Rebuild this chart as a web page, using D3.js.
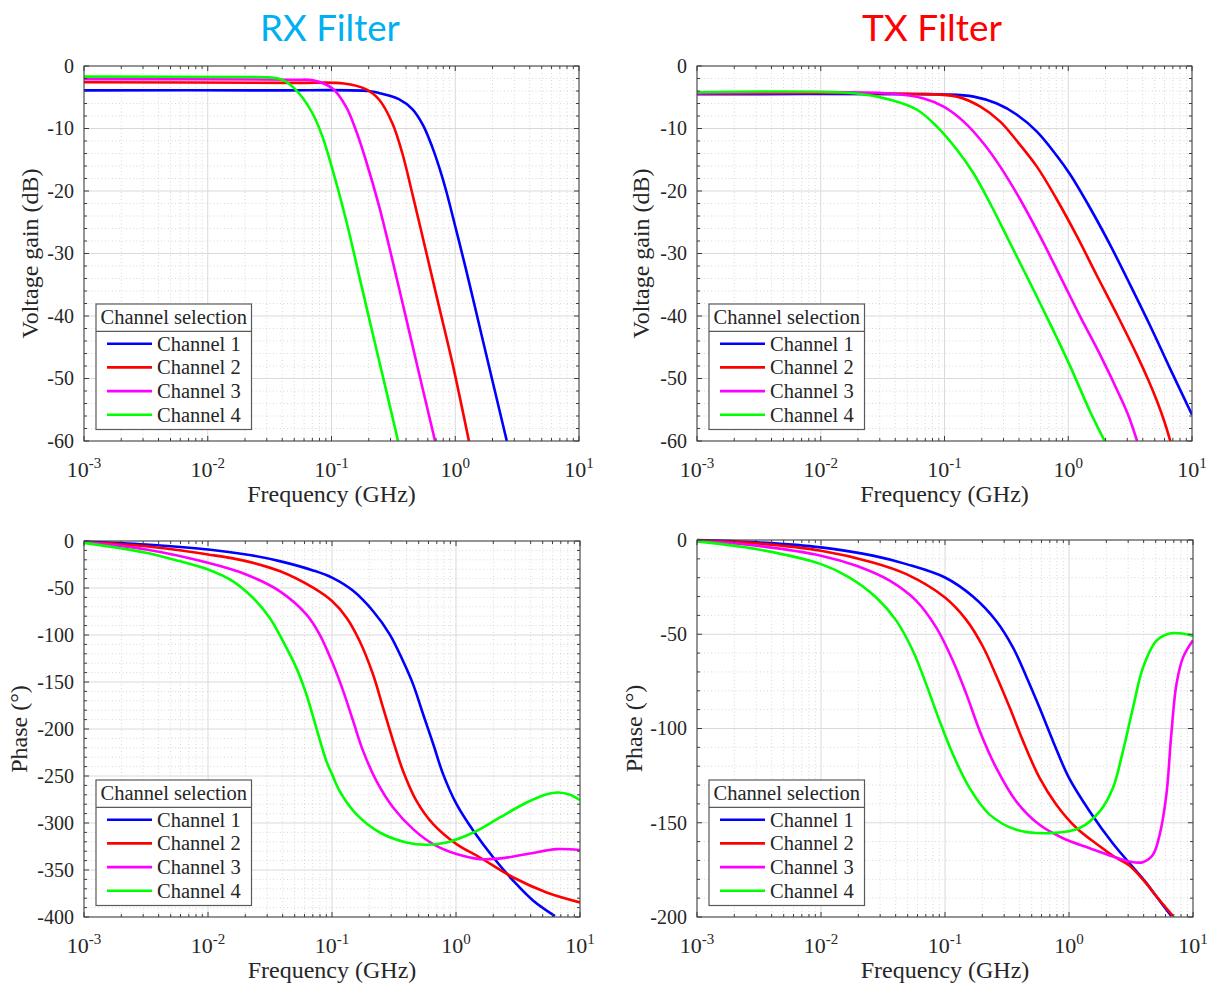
<!DOCTYPE html>
<html><head><meta charset="utf-8">
<script src="https://cdn.jsdelivr.net/npm/d3@7"></script>
<style>body{margin:0;background:#fff}</style>
</head><body><svg id="c" width="1215" height="985"></svg>
<script>
const channels = ["Channel 1", "Channel 2", "Channel 3", "Channel 4"];
const channelColors = ["#0000ff", "#ff0000", "#ff00ff", "#00ff00"];
const freqTicks = [0.001, 0.01, 0.1, 1, 10];
const freqTickExponents = ["-3", "-2", "-1", "0", "1"];
const gainTicks = [0, -10, -20, -30, -40, -50, -60];
const rxPhaseTicks = [0, -50, -100, -150, -200, -250, -300, -350, -400];
const txPhaseTicks = [0, -50, -100, -150, -200];
const titles = ["RX Filter", "TX Filter"];
const legendTitle = "Channel selection";
const xLabel = "Frequency (GHz)";
const gainLabel = "Voltage gain (dB)";
const phaseLabel = "Phase (°)";

// [frequency GHz, value]
const rxGainCh1 = [[0.001,-3.9],[0.0316,-3.9],[0.2,-4.0],[0.25,-4.4],[0.35,-5.3],[0.45,-6.9],[0.55,-9.5],[0.65,-12.9],[0.75,-16.5],[0.84,-19.8],[1.01,-26.0],[1.22,-32.5],[1.56,-41.4],[2.0,-50.4],[2.61,-60]];
const rxGainCh2 = [[0.001,-2.6],[0.05,-2.7],[0.126,-2.8],[0.189,-3.7],[0.243,-5.4],[0.311,-9.2],[0.374,-14.0],[0.451,-20.5],[0.578,-29.5],[0.74,-38.5],[0.948,-47.5],[1.29,-60]];
const rxGainCh3 = [[0.001,-2.1],[0.05,-2.2],[0.0708,-2.3],[0.102,-3.6],[0.131,-6.5],[0.157,-10.2],[0.189,-15.0],[0.243,-22.5],[0.311,-31.1],[0.398,-40.1],[0.51,-49.2],[0.687,-60]];
const rxGainCh4 = [[0.001,-1.7],[0.02,-1.75],[0.03,-1.8],[0.037,-2.0],[0.0428,-2.5],[0.0548,-4.4],[0.0703,-7.6],[0.0845,-11.3],[0.102,-16.6],[0.131,-24.6],[0.167,-33.5],[0.214,-42.6],[0.275,-51.7],[0.345,-60]];

const txGainCh1 = [[0.001,-4.5],[0.05,-4.5],[0.0984,-4.55],[0.172,-4.9],[0.265,-6.0],[0.385,-7.8],[0.558,-10.5],[0.811,-14.4],[1.04,-17.4],[1.51,-22.8],[2.19,-28.7],[3.18,-35.1],[4.6,-41.6],[6.68,-48.5],[10,-55.8]];
const txGainCh2 = [[0.001,-4.4],[0.05,-4.45],[0.126,-4.9],[0.195,-6.5],[0.282,-8.9],[0.385,-12.0],[0.558,-16.1],[0.811,-21.4],[1.18,-27.3],[1.71,-33.6],[2.48,-39.8],[3.6,-46.3],[4.47,-50.4],[5.21,-53.6],[5.96,-56.8],[6.68,-60]];
const txGainCh3 = [[0.001,-4.35],[0.0365,-4.4],[0.0679,-5.2],[0.0984,-6.5],[0.143,-8.9],[0.207,-12.4],[0.282,-16.1],[0.41,-21.4],[0.594,-27.3],[0.863,-33.7],[1.25,-40.1],[1.82,-46.3],[2.64,-53.0],[3.1,-56.2],[3.6,-60]];
const txGainCh4 = [[0.001,-4.2],[0.0196,-4.4],[0.0365,-5.4],[0.06,-7.0],[0.0869,-9.7],[0.126,-13.4],[0.172,-17.2],[0.234,-22],[0.34,-28.4],[0.494,-34.8],[0.716,-41.3],[1.04,-48.1],[1.51,-55.4],[1.97,-60]];

const rxPhaseCh1 = [[0.001,-0.5],[0.00317,-3.7],[0.01,-9],[0.0203,-14.3],[0.0378,-21.4],[0.0703,-31.3],[0.1,-39],[0.148,-53],[0.214,-74.5],[0.292,-99.3],[0.374,-127.7],[0.451,-152.5],[0.543,-184.3],[0.655,-216],[0.787,-248],[1.01,-280],[1.38,-308.3],[2.0,-336.7],[2.9,-361.5],[4.2,-382.7],[6.28,-399]];
const rxPhaseCh2 = [[0.001,-1],[0.00317,-5.5],[0.01,-14.3],[0.0203,-21.4],[0.0378,-32],[0.0703,-49.7],[0.1,-63.9],[0.131,-81.6],[0.167,-106.4],[0.214,-141.8],[0.258,-177.3],[0.311,-212.6],[0.374,-244.6],[0.48,-276.4],[0.655,-301.2],[1.01,-322.5],[1.56,-336.7],[2.9,-358],[5.38,-373.9],[10,-384.5]];
const rxPhaseCh3 = [[0.001,-1.2],[0.00317,-9],[0.01,-23.2],[0.0203,-35.6],[0.0378,-53.3],[0.0621,-78.1],[0.0794,-99.3],[0.102,-131.2],[0.123,-159.5],[0.148,-191.4],[0.178,-223.3],[0.228,-255.2],[0.311,-283.5],[0.451,-306.5],[0.655,-322.5],[1.01,-333.1],[1.56,-338.4],[2.4,-337.4],[3.94,-332.4],[6.49,-327.8],[10,-328.8]];
const rxPhaseCh4 = [[0.001,-2],[0.00317,-12.5],[0.00589,-21.4],[0.01,-30.3],[0.0158,-42.6],[0.023,-60.4],[0.0314,-81.6],[0.0402,-106.4],[0.0515,-134.7],[0.0621,-163],[0.0746,-198.5],[0.0899,-233.9],[0.1,-248],[0.115,-265.8],[0.157,-290.6],[0.243,-310.1],[0.398,-320.7],[0.578,-323.2],[0.838,-320.7],[1.38,-310.1],[2.26,-294.1],[3.71,-278.2],[5.38,-269.3],[6.68,-267.6],[8.3,-270],[10,-275.8]];

const txPhaseCh1 = [[0.001,0],[0.003,-1.2],[0.01,-3.9],[0.0262,-8.3],[0.0488,-12.8],[0.1,-19.9],[0.168,-30],[0.259,-43],[0.353,-57],[0.453,-72.5],[0.579,-89],[0.743,-106.7],[1.0,-126.2],[1.47,-144],[2.26,-161],[3.08,-171.5],[4.21,-182],[5.06,-189],[6.68,-199.5]];
const txPhaseCh2 = [[0.001,-0.2],[0.003,-1.8],[0.01,-5.7],[0.0262,-11.9],[0.0488,-18.1],[0.1,-30.5],[0.149,-42.5],[0.202,-56.5],[0.259,-72],[0.333,-89],[0.426,-106.7],[0.579,-126.2],[0.791,-140.4],[1.15,-152.8],[1.77,-162.5],[2.26,-167.5],[3.08,-172.8],[4.21,-182.3],[5.06,-189],[6.9,-199.5]];
const txPhaseCh3 = [[0.001,-0.4],[0.003,-3],[0.01,-8.3],[0.0193,-13.7],[0.0358,-21.6],[0.0587,-32.3],[0.0851,-46.5],[0.116,-64.2],[0.149,-81.9],[0.191,-101.4],[0.259,-120.9],[0.376,-138.7],[0.579,-151.1],[0.895,-158.2],[1.47,-163.5],[2.26,-167.9],[3.08,-170.6],[3.95,-170.9],[4.75,-167],[5.38,-156.4],[6.1,-135.1],[6.68,-103.2],[7.35,-76.6],[8.3,-62.4],[10,-53.2]];
const txPhaseCh4 = [[0.001,-0.7],[0.003,-4.8],[0.01,-12.8],[0.017,-19.9],[0.0279,-30.5],[0.0406,-42.9],[0.0552,-58.9],[0.0706,-76.6],[0.0906,-96.1],[0.116,-113.8],[0.158,-131.6],[0.229,-145.7],[0.376,-153.7],[0.698,-155.5],[1.22,-152.8],[1.77,-144],[2.26,-131.6],[2.72,-112.1],[3.28,-89],[3.95,-67.7],[5.06,-53.5],[6.49,-49.6],[7.8,-49.5],[10,-50.9]];

const svg = d3.select("#c");
const SERIF = "'Liberation Serif', 'Times New Roman', serif";

const panels = [
  {x0:84, x1:579, y0:66, y1:441, ticks:gainTicks, label:gainLabel, labelX:31, series:[rxGainCh1,rxGainCh2,rxGainCh3,rxGainCh4]},
  {x0:697, x1:1192, y0:66, y1:441, ticks:gainTicks, label:gainLabel, labelX:642, series:[txGainCh1,txGainCh2,txGainCh3,txGainCh4]},
  {x0:84, x1:580, y0:541, y1:917, ticks:rxPhaseTicks, label:phaseLabel, labelX:20, series:[rxPhaseCh1,rxPhaseCh2,rxPhaseCh3,rxPhaseCh4]},
  {x0:697, x1:1193, y0:540, y1:917, ticks:txPhaseTicks, label:phaseLabel, labelX:635, series:[txPhaseCh1,txPhaseCh2,txPhaseCh3,txPhaseCh4]}
];

panels.forEach((p, i) => {
  const g = svg.append("g");
  const x = d3.scaleLog().domain([freqTicks[0], freqTicks[freqTicks.length-1]]).range([p.x0, p.x1]);
  const y = d3.scaleLinear().domain([p.ticks[p.ticks.length-1], p.ticks[0]]).range([p.y1, p.y0]);
  const majorSet = new Set(freqTicks.map(v => +v.toPrecision(6)));
  const minorX = x.ticks().filter(v => !majorSet.has(+v.toPrecision(6)));
  const yMajorSet = new Set(p.ticks);
  const minorY = y.ticks((p.ticks.length-1)*5).filter(v => !yMajorSet.has(v));

  g.selectAll(null).data(minorX).enter().append("line")
    .attr("x1", d => x(d)).attr("x2", d => x(d)).attr("y1", p.y0).attr("y2", p.y1)
    .attr("stroke", "#c8c8c8").attr("stroke-width", 0.7).attr("stroke-dasharray", "1,2.5");
  g.selectAll(null).data(minorY).enter().append("line")
    .attr("y1", d => y(d)).attr("y2", d => y(d)).attr("x1", p.x0).attr("x2", p.x1)
    .attr("stroke", "#c8c8c8").attr("stroke-width", 0.7).attr("stroke-dasharray", "1,2.5");
  g.selectAll(null).data(freqTicks).enter().append("line")
    .attr("x1", d => x(d)).attr("x2", d => x(d)).attr("y1", p.y0).attr("y2", p.y1)
    .attr("stroke", "#dadada").attr("stroke-width", 1);
  g.selectAll(null).data(p.ticks).enter().append("line")
    .attr("y1", d => y(d)).attr("y2", d => y(d)).attr("x1", p.x0).attr("x2", p.x1)
    .attr("stroke", "#dadada").attr("stroke-width", 1);

  const cid = "clip" + i;
  svg.append("clipPath").attr("id", cid).append("rect")
    .attr("x", p.x0).attr("y", p.y0 - 2).attr("width", p.x1 - p.x0).attr("height", p.y1 - p.y0 + 2);
  const line = d3.line().x(d => x(d[0])).y(d => y(d[1])).curve(d3.curveCatmullRom.alpha(0.5));
  const cg = g.append("g").attr("clip-path", `url(#${cid})`);
  p.series.forEach((s, k) => {
    cg.append("path").datum(s).attr("d", line).attr("fill", "none")
      .attr("stroke", channelColors[k]).attr("stroke-width", 2.6).attr("stroke-linejoin", "round");
  });

  g.append("rect").attr("x", p.x0).attr("y", p.y0).attr("width", p.x1 - p.x0).attr("height", p.y1 - p.y0)
    .attr("fill", "none").attr("stroke", "#3c3c3c").attr("stroke-width", 1);
  const tk = (arr, len, isX) => {
    arr.forEach(v => {
      if (isX) {
        const xx = x(v);
        g.append("line").attr("x1", xx).attr("x2", xx).attr("y1", p.y1).attr("y2", p.y1 - len).attr("stroke", "#3c3c3c");
        g.append("line").attr("x1", xx).attr("x2", xx).attr("y1", p.y0).attr("y2", p.y0 + len).attr("stroke", "#3c3c3c");
      } else {
        const yy = y(v);
        g.append("line").attr("y1", yy).attr("y2", yy).attr("x1", p.x0).attr("x2", p.x0 + len).attr("stroke", "#3c3c3c");
        g.append("line").attr("y1", yy).attr("y2", yy).attr("x1", p.x1).attr("x2", p.x1 - len).attr("stroke", "#3c3c3c");
      }
    });
  };
  tk(freqTicks, 5, true); tk(minorX, 3, true);
  tk(p.ticks, 5, false); tk(minorY, 3, false);

  freqTicks.forEach((v, k) => {
    const t = g.append("text").attr("x", x(v)).attr("y", p.y1 + 35.5)
      .attr("text-anchor", "middle").attr("font-family", SERIF).attr("font-size", 22).attr("fill", "#262626");
    t.append("tspan").text("10");
    t.append("tspan").attr("dy", -9).attr("font-size", 15).text(freqTickExponents[k]);
  });
  p.ticks.forEach(v => {
    g.append("text").attr("x", p.x0 - 10).attr("y", y(v)).attr("dy", "0.34em")
      .attr("text-anchor", "end").attr("font-family", SERIF).attr("font-size", 20).attr("fill", "#262626").text(v);
  });
  g.append("text").attr("x", (p.x0 + p.x1) / 2).attr("y", p.y1 + 60.5)
    .attr("text-anchor", "middle").attr("font-family", SERIF).attr("font-size", 24).attr("fill", "#262626").text(xLabel);
  g.append("text").attr("transform", `translate(${p.labelX},${(p.y0 + p.y1) / 2}) rotate(-90)`).attr("dy", "0.3em")
    .attr("text-anchor", "middle").attr("font-family", SERIF).attr("font-size", 24).attr("fill", "#262626").text(p.label);

  const lx = p.x0 + 12, lw = 155.5, lh = 125.5, ly = p.y1 - 11.5 - lh;
  const lg = g.append("g");
  lg.append("rect").attr("x", lx).attr("y", ly).attr("width", lw).attr("height", lh)
    .attr("fill", "#fff").attr("stroke", "#5a5a5a").attr("stroke-width", 1.2);
  lg.append("line").attr("x1", lx).attr("x2", lx + lw).attr("y1", ly + 27.4).attr("y2", ly + 27.4)
    .attr("stroke", "#5a5a5a").attr("stroke-width", 1.2);
  lg.append("text").attr("x", lx + lw / 2).attr("y", ly + 13.5).attr("dy", "0.34em").attr("text-anchor", "middle")
    .attr("font-family", SERIF).attr("font-size", 20.5).attr("fill", "#262626").text(legendTitle);
  channels.forEach((c, k) => {
    const ry = ly + 39.7 + k * 23.7;
    lg.append("line").attr("x1", lx + 11).attr("x2", lx + 56).attr("y1", ry).attr("y2", ry)
      .attr("stroke", channelColors[k]).attr("stroke-width", 2.6);
    lg.append("text").attr("x", lx + 61).attr("y", ry).attr("dy", "0.34em")
      .attr("font-family", SERIF).attr("font-size", 20.5).attr("fill", "#262626").text(c);
  });
});

const titleColors = ["#00b0f0", "#ff0000"];
const titleX = [330, 932];
titles.forEach((t, k) => {
  const el = svg.append("text").attr("x", titleX[k]).attr("y", 41).attr("text-anchor", "middle")
    .attr("font-family", "Lato, 'Open Sans', sans-serif").attr("font-size", 40).attr("fill", titleColors[k]).text(t);
  const len = el.node().getComputedTextLength();
  el.attr("font-size", 40 * 140 / len);
});
</script></body></html>
